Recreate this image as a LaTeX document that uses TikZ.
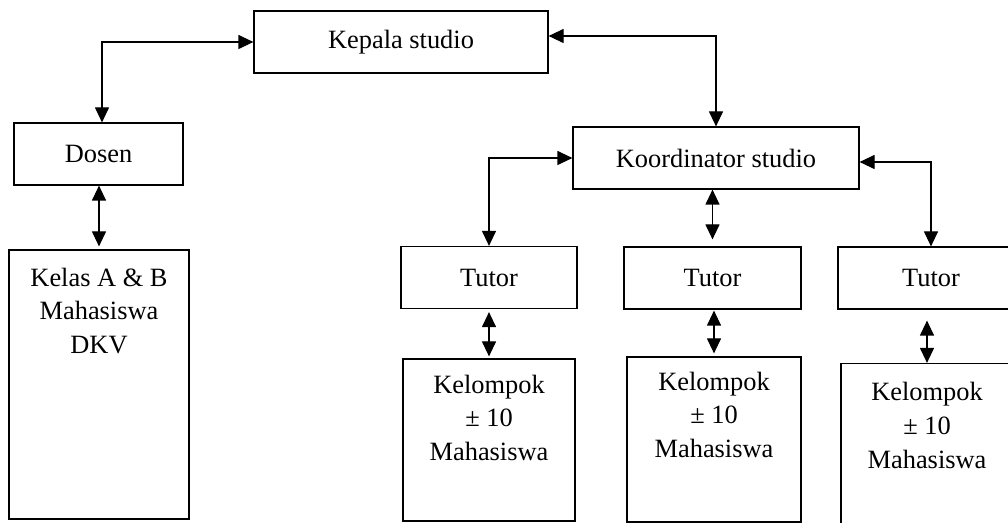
\documentclass[tikz,border=0pt]{standalone}
\usepackage{fontspec}
\setmainfont{Liberation Serif}
\usetikzlibrary{arrows.meta}

\tikzset{
  box/.style={draw, line width=0.6pt, inner sep=0pt, minimum height=31pt},
  boxtext/.style={anchor=north, align=center, inner sep=0pt}
}

\begin{document}
\begin{tikzpicture}[x=0.5pt, y=-0.5pt, line width=0.6pt,
    font=\fontsize{13.2}{16.8}\selectfont,
    >={Triangle[length=7.5pt, width=7pt]}]
                \useasboundingbox (0,0) rectangle (1008,523);
                % top level
                \node[box, minimum width=147pt] (kepala) at (401,42) {Kepala studio};
                \node[box, minimum width=84.5pt] (dosen) at (98.5,154) {Dosen};
                \node[box, minimum width=143pt] (koord) at (716,158) {Koordinator studio};
                % tutors
                \node[box, minimum width=88pt] (tutor1) at (489,277.5) {Tutor};
                \node[box, minimum width=88.5pt] (tutor2) at (712.5,278) {Tutor};
                \node[box, minimum width=93pt] (tutor3) at (931,278) {Tutor};
                % student boxes (text sits at the top)
                \node[box, minimum width=90pt, minimum height=134.5pt] (kelas) at (99,384.5) {};
                \node[boxtext] (kelastext) at ([yshift=-9pt]kelas.north) {Kelas A \& B\\Mahasiswa\\DKV};
                \node[box, minimum width=86pt, minimum height=81pt] (kel1) at (489,440) {};
                \node[boxtext] (kel1text) at ([yshift=-8pt]kel1.north) {Kelompok\\± 10\\Mahasiswa};
                \node[box, minimum width=87pt, minimum height=82.5pt] (kel2) at (714,439.5) {};
                \node[boxtext] (kel2text) at ([yshift=-7.5pt]kel2.north) {Kelompok\\± 10\\Mahasiswa};
                \node[box, minimum width=86pt, minimum height=83pt] (kel3) at (927,446.5) {};
                \node[boxtext] (kel3text) at ([yshift=-9.5pt]kel3.north) {Kelompok\\± 10\\Mahasiswa};
                % connectors
                \draw[<->] (kepala.west) -| ([xshift=1.75pt]dosen.north);
                \draw[<->] ([yshift=3pt]kepala.east) -| (koord.north);
                \draw[<->, shorten >=1.5pt] (dosen.south -| kelas.north) -- (kelas.north);
                \draw[<->] (koord.west) -| (tutor1.north);
                \draw[<->, shorten >=3.5pt] (koord.south -| tutor2.north) -- (tutor2.north);
                \draw[<->] ([yshift=-2pt]koord.east) -| (tutor3.north);
                \draw[<->, shorten <=1.5pt, shorten >=1pt] (tutor1.south) -- (tutor1.south |- kel1.north);
                \draw[<->, shorten <=0.5pt, shorten >=1.5pt] (tutor2.south -| kel2.north) -- (kel2.north);
                \draw[<->, shorten <=5.5pt] (tutor3.south -| kel3.north) -- (kel3.north);
            \end{tikzpicture}
\end{document}
